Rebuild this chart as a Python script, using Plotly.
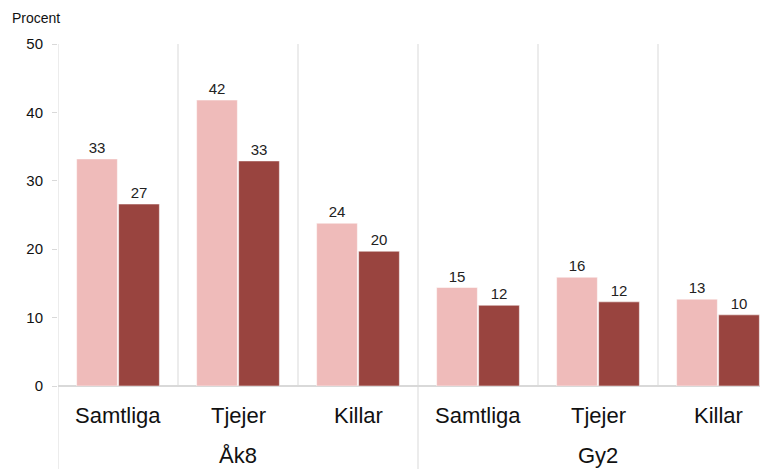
import plotly.graph_objects as go

groups = ["Åk8", "Gy2"]
categories = ["Samtliga", "Tjejer", "Killar", "Samtliga", "Tjejer", "Killar"]
series_a = [33.2, 41.8, 23.8, 14.4, 15.9, 12.7]
series_b = [26.6, 32.9, 19.7, 11.8, 12.3, 10.4]
labels_a = [33, 42, 24, 15, 16, 13]
labels_b = [27, 33, 20, 12, 12, 10]
y_ticks = [0, 10, 20, 30, 40, 50]

color_a = "#EFBBBA"
color_b = "#99443F"
font_family = "Liberation Sans, Arial, sans-serif"
grid_col = "#D9D9D9"

# page body has an 8px margin; the figure is sized/offset to compensate
W, H = 760, 461
L, T, R, B = 50, 36, 0, 83
PW, PH = W - L - R, H - T - B

x = list(range(len(categories)))

fig = go.Figure()
for vals, labs, col in [(series_a, labels_a, color_a), (series_b, labels_b, color_b)]:
    fig.add_trace(go.Bar(
        x=x, y=vals, text=labs, textposition="outside",
        textfont=dict(size=15, color="#222222", family=font_family),
        marker=dict(color=col, line=dict(color="white", width=0.5)),
        cliponaxis=False, showlegend=False,
    ))

shapes = []
for i in range(len(categories) - 1):
    b = i + 0.5
    if b == 2.5:
        shapes.append(dict(type="line", xref="x", yref="paper", x0=b, x1=b, y0=-B / PH, y1=1,
                           line=dict(color=grid_col, width=1), layer="below"))
    else:
        shapes.append(dict(type="line", xref="x", yref="y", x0=b, x1=b, y0=0, y1=50,
                           line=dict(color=grid_col, width=1), layer="below"))
shapes.append(dict(type="line", xref="x", yref="paper", x0=-0.5, x1=-0.5, y0=-B / PH, y1=1,
                   line=dict(color=grid_col, width=1), layer="below"))

annotations = []
for i, c in enumerate(categories):
    annotations.append(dict(x=i, y=0, xref="x", yref="y", text=c, showarrow=False,
                            yanchor="middle", yshift=-29,
                            font=dict(size=22, color="#111111", family=font_family)))
for gi, g in enumerate(groups):
    annotations.append(dict(x=gi * 3 + 1, y=0, xref="x", yref="y", text=g, showarrow=False,
                            yanchor="middle", yshift=-69,
                            font=dict(size=22, color="#111111", family=font_family)))
annotations.append(dict(x=(2 - L) / PW, y=1 + (T - 10) / PH, xref="paper", yref="paper",
                        text="Procent", showarrow=False, xanchor="left", yanchor="middle",
                        font=dict(size=14, color="#111111", family=font_family)))

fig.update_layout(
    width=W, height=H,
    margin=dict(l=L, r=R, t=T, b=B, pad=0),
    paper_bgcolor="white", plot_bgcolor="white",
    barmode="group", bargap=0.3, bargroupgap=0.03,
    shapes=shapes, annotations=annotations,
    font=dict(family=font_family, color="#111111"),
    xaxis=dict(range=[-0.5, 5.4167], showticklabels=False, showgrid=False, zeroline=False,
               showline=False, ticks=""),
    yaxis=dict(range=[0, 50], tickvals=y_ticks, showgrid=False, zeroline=True,
               zerolinecolor=grid_col, zerolinewidth=2,
               showline=False, ticks="outside", ticklen=5, tickcolor=grid_col,
               tickfont=dict(size=15, color="#111111", family=font_family),
               ticklabelstandoff=6),
)

fig.write_html("out.html")
